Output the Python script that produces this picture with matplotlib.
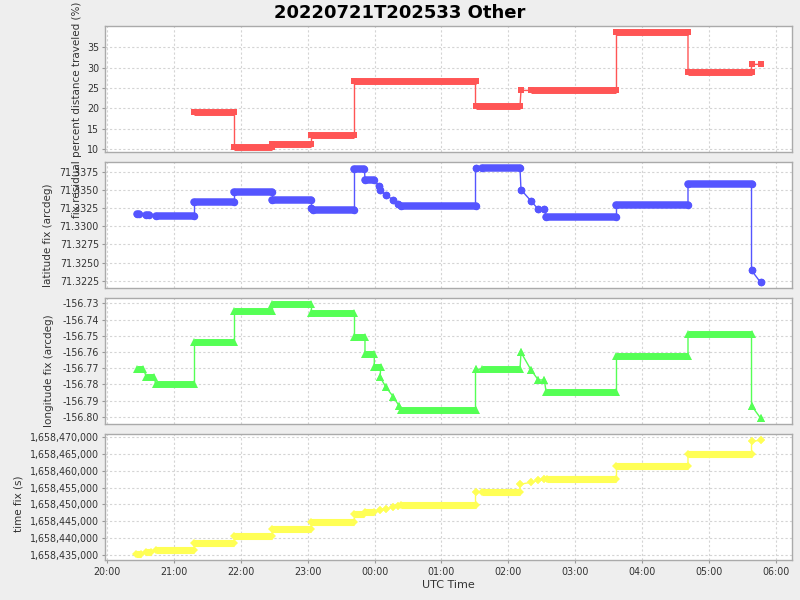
import matplotlib
matplotlib.use("Agg")
import matplotlib.pyplot as plt
import matplotlib.dates as mdates
from matplotlib.ticker import FixedLocator, FuncFormatter
import pandas as pd

TITLE = "20220721T202533 Other"
X_LABEL = "UTC Time"
Y_LABELS = ["fix residual percent distance traveled (%)",
            "latitude fix (arcdeg)",
            "longitude fix (arcdeg)",
            "time fix (s)"]

# ---- panel 1: fix residual percent distance traveled (%) ----
pct_start = ["21:18:17", "21:54:11", "22:28:18", "23:03:18", "23:41:54", "01:30:32",
             "02:11:22", "02:20:36", "03:37:05", "04:41:16", "05:38:17", "05:46:22"]
pct_end = ["21:54:11", "22:28:18", "23:03:18", "23:41:54", "01:30:32", "02:10:28",
           "02:11:22", "03:37:05", "04:41:16", "05:38:17", "05:38:17", "05:46:22"]
pct_val = [19.0, 10.4, 11.15, 13.4, 26.65, 20.5, 24.4, 24.4, 38.7, 28.85, 30.8, 30.8]

# ---- panel 2: latitude fix (arcdeg) ----
lat_start = ["20:26:30", "20:35:00", "20:43:30", "21:18:17", "21:54:11", "22:28:18",
             "23:03:18", "23:04:30", "23:41:54", "23:51:19", "00:04:00", "00:04:48",
             "00:10:11", "00:16:44", "00:21:13", "00:23:38", "01:30:32", "01:36:48",
             "02:11:22", "02:20:36", "02:26:53", "02:32:17", "02:34:00", "03:37:05",
             "04:41:16", "05:38:17", "05:46:22"]
lat_end = ["20:28:30", "20:37:30", "21:18:17", "21:54:11", "22:28:18", "23:03:18",
           "23:03:18", "23:41:54", "23:50:53", "23:59:40", "00:04:00", "00:04:48",
           "00:10:11", "00:16:44", "00:21:13", "01:30:32", "01:30:32", "02:10:28",
           "02:11:22", "02:20:36", "02:26:53", "02:32:17", "03:37:05", "04:41:16",
           "05:38:17", "05:38:17", "05:46:22"]
lat_val = [71.33164, 71.33150, 71.33136, 71.33329, 71.33471, 71.33356,
           71.33255, 71.33219, 71.33783, 71.33632, 71.33553, 71.33494,
           71.33429, 71.33360, 71.33306, 71.33278, 71.33797, 71.33797,
           71.33502, 71.33343, 71.33233, 71.33233, 71.33131, 71.33288,
           71.33577, 71.32393, 71.32228]

# ---- panel 3: longitude fix (arcdeg) ----
lon_start = ["20:26:40", "20:35:00", "20:43:30", "21:18:17", "21:54:11", "22:28:18",
             "23:03:18", "23:41:54", "23:51:19", "23:59:40", "00:05:00", "00:10:11",
             "00:16:44", "00:22:00", "00:23:38", "01:30:32", "01:36:48", "02:11:22",
             "02:20:36", "02:26:53", "02:32:17", "02:34:00", "03:37:05", "04:41:16",
             "05:38:17", "05:46:22"]
lon_end = ["20:32:30", "20:42:00", "21:18:17", "21:54:11", "22:28:18", "23:03:18",
           "23:41:54", "23:51:19", "23:59:40", "00:05:20", "00:05:00", "00:10:11",
           "00:16:44", "00:22:00", "01:30:32", "01:30:32", "02:10:28", "02:11:22",
           "02:20:36", "02:26:53", "02:32:17", "03:37:05", "04:41:16", "05:38:17",
           "05:38:17", "05:46:22"]
lon_val = [-156.7707, -156.7753, -156.7800, -156.7540, -156.7348, -156.7304,
           -156.7362, -156.7510, -156.7615, -156.7695, -156.7757, -156.7818,
           -156.7877, -156.7934, -156.7959, -156.7707, -156.7707, -156.7603,
           -156.7714, -156.7773, -156.7773, -156.7850, -156.7623, -156.7491,
           -156.7932, -156.8008]

# ---- panel 4: time fix (s) ----
tfix_start = ["20:26:00", "20:35:00", "20:43:30", "21:18:17", "21:54:11", "22:28:18",
              "23:03:18", "23:41:54", "23:51:19", "00:04:48", "00:10:11", "00:16:44",
              "00:21:13", "00:23:38", "01:30:32", "01:36:48", "02:10:28", "02:20:36",
              "02:26:53", "02:32:17", "02:34:30", "03:37:05", "04:41:16", "05:38:17",
              "05:46:22"]
tfix_end = ["20:30:30", "20:39:00", "21:18:17", "21:54:11", "22:28:18", "23:03:18",
            "23:41:54", "23:50:53", "23:59:40", "00:04:48", "00:10:11", "00:16:44",
            "00:21:13", "01:30:32", "01:30:32", "02:10:28", "02:10:28", "02:20:36",
            "02:26:53", "02:32:17", "03:37:05", "04:41:16", "05:38:17", "05:38:17",
            "05:46:22"]
tfix_val = [1658435100, 1658435800, 1658436300, 1658438400, 1658440490, 1658442570,
            1658444840, 1658447040, 1658447640, 1658448330, 1658448710, 1658449130,
            1658449520, 1658449730, 1658453600, 1658453600, 1658456000, 1658456580,
            1658457180, 1658457480, 1658457480, 1658461350, 1658465110, 1658468800,
            1658469100]

Y_TICKS = [[10, 15, 20, 25, 30, 35],
           [71.3225, 71.3250, 71.3275, 71.3300, 71.3325, 71.3350, 71.3375],
           [-156.80, -156.79, -156.78, -156.77, -156.76, -156.75, -156.74, -156.73],
           [1658435000, 1658440000, 1658445000, 1658450000, 1658455000,
            1658460000, 1658465000, 1658470000]]
Y_LIMS = [(9.26, 40.24), (71.32154, 71.33879), (-156.80469, -156.72691),
          (1658433330, 1658470894)]
Y_FMT = [lambda v, p: f"{v:.0f}", lambda v, p: f"{v:.4f}",
         lambda v, p: f"{v:.2f}", lambda v, p: f"{v:,.0f}"]
X_LIM = ("2022-07-21 19:57:30", "2022-07-22 06:14:54")


def to_dt(hms):
    day = "2022-07-21" if int(hms[:2]) >= 12 else "2022-07-22"
    return pd.Timestamp(f"{day} {hms}").to_pydatetime()


def draw_series(ax, starts, ends, vals, color, marker, ms, bar_lw, cap):
    S = [mdates.date2num(to_dt(s)) for s in starts]
    E = [mdates.date2num(to_dt(e)) for e in ends]
    lx, ly = [], []
    for s, e, v in zip(S, E, vals):
        lx += [s, e]
        ly += [v, v]
    ax.plot(lx, ly, color=color, lw=1.0, zorder=2)
    for s, e, v in zip(S, E, vals):
        if e > s:
            ax.plot([s, e], [v, v], color=color, lw=bar_lw,
                    solid_capstyle=cap, zorder=3)
    ax.plot(lx, ly, ls="none", marker=marker, ms=ms, mew=0,
            color=color, zorder=3)


fig = plt.figure(figsize=(8, 6), dpi=100, facecolor="#eeeeee")
W, H = 800.0, 600.0
left_px, right_px = 104.5, 792.3
tops = [26.0, 162.3, 298.3, 434.3]
bots = [152.0, 287.7, 424.3, 560.3]
axes = []
for t, b in zip(tops, bots):
    ax = fig.add_axes([left_px / W, 1 - b / H, (right_px - left_px) / W, (b - t) / H])
    axes.append(ax)

series = [
    (pct_start, pct_end, pct_val, "#ff5555", "s", 5.0, 5.0, "butt"),
    (lat_start, lat_end, lat_val, "#5555ff", "o", 5.4, 5.4, "round"),
    (lon_start, lon_end, lon_val, "#55ff55", "^", 5.2, 5.0, "butt"),
    (tfix_start, tfix_end, tfix_val, "#ffff55", "D", 3.6, 5.1, "butt"),
]

label_px = [(76.5, 110.0), (48.0, 235.0), (49.0, 371.0), (18.5, 503.5)]

x0 = mdates.date2num(pd.Timestamp(X_LIM[0]).to_pydatetime())
x1 = mdates.date2num(pd.Timestamp(X_LIM[1]).to_pydatetime())

for i, ax in enumerate(axes):
    ax.set_facecolor("white")
    s, e, v, c, m, ms, blw, cap = series[i]
    draw_series(ax, s, e, v, c, m, ms, blw, cap)
    ax.set_xlim(x0, x1)
    ax.set_ylim(*Y_LIMS[i])
    ax.yaxis.set_major_locator(FixedLocator(Y_TICKS[i]))
    ax.yaxis.set_major_formatter(FuncFormatter(Y_FMT[i]))
    ax.xaxis.set_major_locator(mdates.HourLocator(interval=1))
    ax.xaxis.set_major_formatter(mdates.DateFormatter("%H:%M"))
    ax.set_axisbelow(True)
    ax.grid(True, color="#d4d4d4", linestyle=(0, (2, 2)), linewidth=0.8)
    for sp in ax.spines.values():
        sp.set_color("#aaaaaa")
        sp.set_linewidth(1.0)
    ax.tick_params(axis="y", direction="out", length=2.5, width=0.8,
                   color="#999999", labelsize=6.85, labelcolor="#333333", pad=1.5)
    if i < 3:
        ax.tick_params(axis="x", length=0, labelbottom=False)
    else:
        ax.tick_params(axis="x", direction="out", length=2.5, width=0.8,
                       color="#999999", labelsize=6.85, labelcolor="#333333", pad=2.5)
    ax.set_ylabel(Y_LABELS[i], fontsize=7.5, color="#333333")
    ax.yaxis.label.set_va("center")
    lx, ly = label_px[i]
    t, b = tops[i], bots[i]
    ax.yaxis.set_label_coords((lx - left_px) / (right_px - left_px), (b - ly) / (b - t))

fig.text(448.4 / W, 1 - 585.5 / H, X_LABEL, ha="center", va="center",
         fontsize=8.0, color="#333333")
fig.text(0.5, 1 - 18.0 / H, TITLE, ha="center", va="baseline",
         fontsize=12.96, fontweight="bold", color="black")

fig.savefig("out.png", dpi=100, facecolor=fig.get_facecolor())
